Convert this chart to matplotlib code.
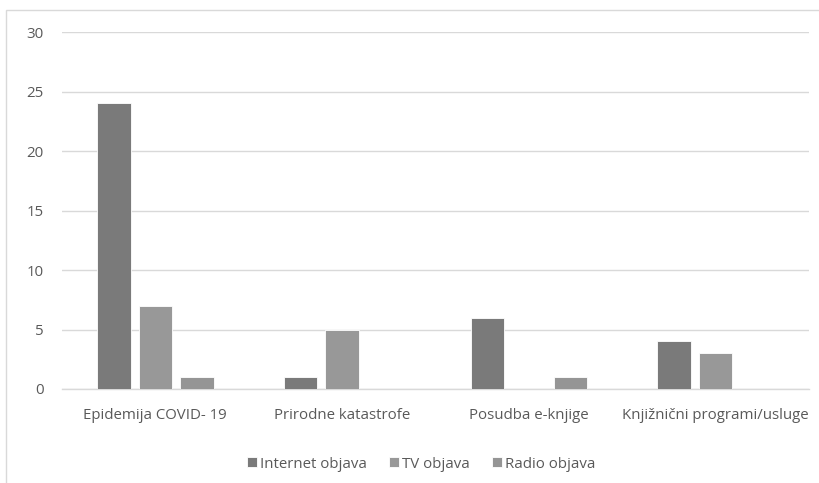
import matplotlib.pyplot as plt
import numpy as np
from matplotlib.patches import Rectangle

categories = ["Epidemija COVID- 19", "Prirodne katastrofe", "Posudba e-knjige", "Knjižnični programi/usluge"]
internet = [24, 1, 6, 4]
tv = [7, 5, 0, 3]
radio = [1, 0, 1, 0]
series_names = ["Internet objava", "TV objava", "Radio objava"]
colors = ["#7a7a7a", "#989898", "#959595"]

plt.rcParams["font.family"] = ["Open Sans", "DejaVu Sans"]
text_color = "#595959"

W, H = 820, 483
fig = plt.figure(figsize=(W / 100, H / 100), dpi=100)
ax = fig.add_axes([62 / W, 1 - 389 / H, (809 - 62) / W, (389 - 32) / H])

x = np.arange(len(categories))
step = 0.222
width = 0.18
for i, (vals, name, c) in enumerate(zip([internet, tv, radio], series_names, colors)):
    ax.bar(x + (i - 1) * step, vals, width, color=c, edgecolor="white",
           linewidth=0.6, label=name, zorder=3)

ax.set_xlim(-0.5, len(categories) - 0.5)
ax.set_ylim(0, 30)
ax.set_yticks(range(0, 31, 5))
ax.yaxis.grid(True, color="#d9d9d9", linewidth=1.0, zorder=0)
ax.set_xticks(x)
ax.set_xticklabels(categories)
for s in ["top", "right", "left"]:
    ax.spines[s].set_visible(False)
ax.spines["bottom"].set_color("#d9d9d9")
ax.spines["bottom"].set_linewidth(1.0)
ax.tick_params(axis="both", length=0, colors=text_color, labelsize=10.8)
ax.tick_params(axis="x", pad=14)
ax.tick_params(axis="y", pad=13)

leg = fig.legend(loc="center", bbox_to_anchor=(421 / W, 1 - 464 / H), ncol=3,
                 frameon=False, fontsize=10.8, handlelength=0.65, handleheight=0.65,
                 handletextpad=0.2, columnspacing=1.5)
for t in leg.get_texts():
    t.set_color(text_color)

# chart area border (partially cropped in the reference)
fig.patches.append(Rectangle((6 / W, -0.1), 1.2, 1 - 10 / H + 0.1,
                             transform=fig.transFigure, fill=False,
                             edgecolor="#d9d9d9", linewidth=1.0))

fig.savefig("out.png", dpi=100)
